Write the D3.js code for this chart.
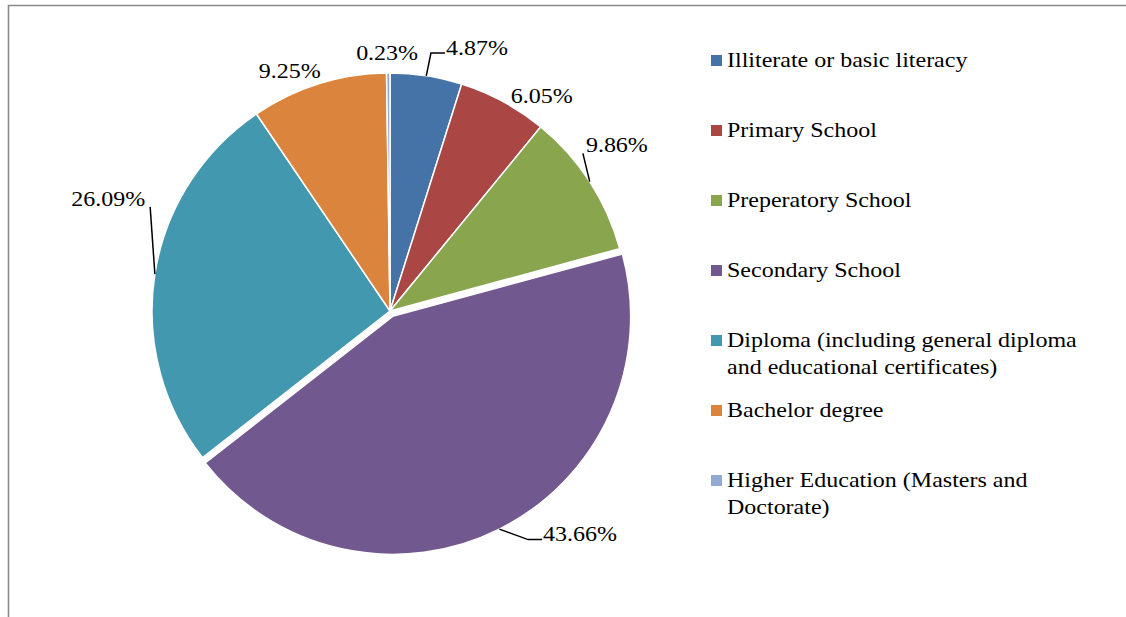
<!DOCTYPE html>
<html>
<head>
<meta charset="utf-8">
<script src="https://cdn.jsdelivr.net/npm/d3@7"></script>
<style>
  html, body { margin: 0; padding: 0; background: #fff; }
  svg { display: block; }
  text { font-family: "Liberation Serif", "Times New Roman", serif; fill: #000; }
</style>
</head>
<body>
<svg id="chart" width="1126" height="617"></svg>
<script>
// ---- data ----
const categories = [
  "Illiterate or basic literacy",
  "Primary School",
  "Preperatory School",
  "Secondary School",
  "Diploma (including general diploma and educational certificates)",
  "Bachelor degree",
  "Higher Education (Masters and Doctorate)"
];
const legendLines = [
  ["Illiterate or basic literacy"],
  ["Primary School"],
  ["Preperatory School"],
  ["Secondary School"],
  ["Diploma (including general diploma", "and educational certificates)"],
  ["Bachelor degree"],
  ["Higher Education (Masters and", "Doctorate)"]
];
const values = [4.87, 6.05, 9.86, 43.66, 26.09, 9.25, 0.23];
const valueLabels = ["4.87%", "6.05%", "9.86%", "43.66%", "26.09%", "9.25%", "0.23%"];
const colors = ["#4572A7", "#AA4643", "#89A54E", "#71588F", "#4198AF", "#DB843D", "#93A9CF"];

// ---- layout (not data) ----
const W = 1126, H = 617;
const cx = 390, cy = 311, R = 238;
const FS = 20, SX = 1.2;
const explodeIdx = 3, explodeDist = 6;
const labelLayout = [
  {dx: 47, dy: -4, leader: "elbow"},
  {dx: 27, dy: 15.5, leader: null},
  {dx: 7, dy: -22.6, leader: "straight"},
  {dx: 70, dy: -16, leader: "elbow"},
  {dx: -23, dy: -71, leader: "straight"},
  {dx: -21.5, dy: 10, leader: null},
  {dx: -1, dy: 4, leader: null}
];

const svg = d3.select("#chart");

// frame
svg.append("path")
  .attr("d", `M8.5,${H} L8.5,5.5 L${W},5.5`)
  .attr("fill", "none")
  .attr("stroke", "#8a8a8a")
  .attr("stroke-width", 1.6);

const pie = d3.pie().sort(null).value(d => d).startAngle(0).endAngle(2 * Math.PI);
const arcs = pie(values);
const arc = d3.arc().innerRadius(0).outerRadius(R);

const g = svg.append("g").attr("transform", `translate(${cx},${cy})`);

function offsetOf(i, a) {
  if (i !== explodeIdx) return [0, 0];
  const m = (a.startAngle + a.endAngle) / 2;
  return [explodeDist * Math.sin(m), -explodeDist * Math.cos(m)];
}

g.selectAll("path.slice")
  .data(arcs)
  .join("path")
  .attr("class", "slice")
  .attr("d", arc)
  .attr("transform", (a, i) => { const o = offsetOf(i, a); return `translate(${o[0]},${o[1]})`; })
  .attr("fill", (a, i) => colors[i])
  .attr("stroke", "#fff")
  .attr("stroke-width", 1.5)
  .attr("stroke-linejoin", "round");

// labels
const labelG = svg.append("g");
arcs.forEach((a, i) => {
  const m = (a.startAngle + a.endAngle) / 2;
  const o = offsetOf(i, a);
  const L = labelLayout[i];
  const lcx = cx + o[0] + 262 * Math.sin(m) + L.dx;
  const lcy = cy + o[1] - 262 * Math.cos(m) + L.dy;
  const baseline = lcy + 6.5;
  const t = labelG.append("text")
    .attr("transform", `translate(${lcx},${baseline}) scale(${SX},1)`)
    .attr("text-anchor", "middle")
    .attr("font-size", FS)
    .text(valueLabels[i]);
  const w = t.node().getComputedTextLength() * SX;
  const left = lcx - w / 2, right = lcx + w / 2;
  const sx = cx + o[0] + R * Math.sin(m);
  const sy = cy + o[1] - R * Math.cos(m);
  let pts = null;
  if (L.leader === "elbow") {
    const hy = baseline - 1.5;
    if (lcx > sx) pts = [[sx, sy], [left - 15, hy], [left - 1, hy]];
    else pts = [[sx, sy], [right + 15, hy], [right + 1, hy]];
  } else if (L.leader === "straight") {
    const ex = lcx > sx ? left - 3 : right + 5;
    pts = [[sx, sy], [ex, baseline + 1]];
  }
  if (pts) {
    labelG.append("path")
      .attr("d", d3.line()(pts))
      .attr("fill", "none")
      .attr("stroke", "#000")
      .attr("stroke-width", 1.5);
  }
});

// legend
const legX = 711, legTextX = 727, legY0 = 67, legStep = 70, lineH = 27;
const leg = svg.append("g");
legendLines.forEach((lines, i) => {
  const by = legY0 + i * legStep;
  leg.append("rect")
    .attr("x", legX).attr("y", by - 12)
    .attr("width", 11).attr("height", 11)
    .attr("fill", colors[i]);
  lines.forEach((ln, j) => {
    leg.append("text")
      .attr("transform", `translate(${legTextX},${by + j * lineH}) scale(${SX},1)`)
      .attr("font-size", FS)
      .text(ln);
  });
});
</script>
</body>
</html>
